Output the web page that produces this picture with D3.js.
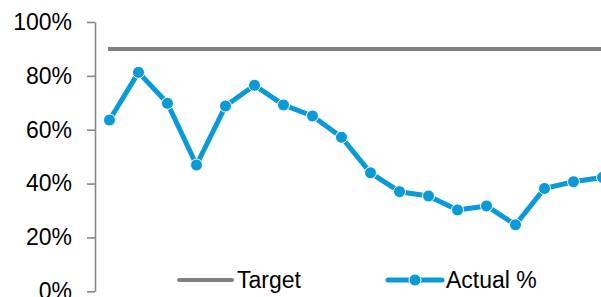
<!DOCTYPE HTML>
<html>

<head>
  <title>Actual vs Target</title>
  <script src="https://d3js.org/d3.v7.min.js"></script>
  <style type="text/css">
    body {
      margin: 0;
      background: #fff;
    }

    svg text {
      font-family: Arial, "Liberation Sans", sans-serif;
      font-size: 23px;
      fill: #000;
    }

    .axis path,
    .axis line {
      stroke: #888;
      stroke-width: 1.6px;
    }
  </style>
</head>

<body>
  <svg width="601" height="297"></svg>
  <script type="text/javascript">
    // periods (no labels shown on the x axis of the reference)
    var periods = ["P1", "P2", "P3", "P4", "P5", "P6", "P7", "P8", "P9",
      "P10", "P11", "P12", "P13", "P14", "P15", "P16", "P17", "P18"];

    var actual = [0.636, 0.813, 0.698, 0.469, 0.688, 0.765, 0.692, 0.651, 0.572,
      0.440, 0.370, 0.354, 0.302, 0.317, 0.247, 0.382, 0.407, 0.423];

    var target = 0.90;

    var yTicks = [0, 0.2, 0.4, 0.6, 0.8, 1.0];

    var blue = "#0b9ad8",
      grey = "#808080";

    var svg = d3.select("svg"),
      left = 95,
      step = 29;

    var x = d3.scaleBand()
      .domain(periods)
      .range([left, left + step * periods.length]);

    var y = d3.scaleLinear()
      .domain([0, 1])
      .range([291.3, 22]);

    // y axis
    var yAxis = svg.append("g")
      .attr("class", "axis")
      .attr("transform", "translate(" + left + ",0)")
      .call(d3.axisLeft(y)
        .tickValues(yTicks)
        .tickSize(8)
        .tickSizeOuter(0)
        .tickPadding(15)
        .tickFormat(d3.format(".0%")));
    yAxis.selectAll("text")
      .attr("fill", "#000")
      .style("font-size", "23px")
      .style("font-family", "Arial, 'Liberation Sans', sans-serif");

    var cx = function(d, i) {
      return x(periods[i]) + x.bandwidth() / 2;
    };

    // target line
    svg.append("line")
      .attr("x1", x(periods[0]) + x.bandwidth() / 2 - 1.5)
      .attr("x2", x(periods[periods.length - 1]) + x.bandwidth() / 2)
      .attr("y1", y(target))
      .attr("y2", y(target))
      .attr("stroke", grey)
      .attr("stroke-width", 4);

    // actual line
    var line = d3.line()
      .x(cx)
      .y(function(d) {
        return y(d);
      });

    svg.append("path")
      .datum(actual)
      .attr("d", line)
      .attr("fill", "none")
      .attr("stroke", blue)
      .attr("stroke-width", 5)
      .attr("stroke-linejoin", "round");

    svg.selectAll(".dot")
      .data(actual)
      .enter().append("circle")
      .attr("class", "dot")
      .attr("cx", cx)
      .attr("cy", function(d) {
        return y(d);
      })
      .attr("r", 6)
      .attr("fill", blue)
      .attr("stroke", "#fff")
      .attr("stroke-width", 1);

    // legend
    var legend = svg.append("g");

    legend.append("line")
      .attr("x1", 179).attr("x2", 232)
      .attr("y1", 280).attr("y2", 280)
      .attr("stroke", grey)
      .attr("stroke-width", 4)
      .attr("stroke-linecap", "round");
    legend.append("text")
      .attr("x", 237)
      .attr("y", 288)
      .text("Target");

    legend.append("line")
      .attr("x1", 388).attr("x2", 442)
      .attr("y1", 280).attr("y2", 280)
      .attr("stroke", blue)
      .attr("stroke-width", 5)
      .attr("stroke-linecap", "round");
    legend.append("circle")
      .attr("cx", 415)
      .attr("cy", 280)
      .attr("r", 6)
      .attr("fill", blue)
      .attr("stroke", "#fff")
      .attr("stroke-width", 1);
    legend.append("text")
      .attr("x", 446)
      .attr("y", 288)
      .text("Actual %");
  </script>
</body>

</html>
